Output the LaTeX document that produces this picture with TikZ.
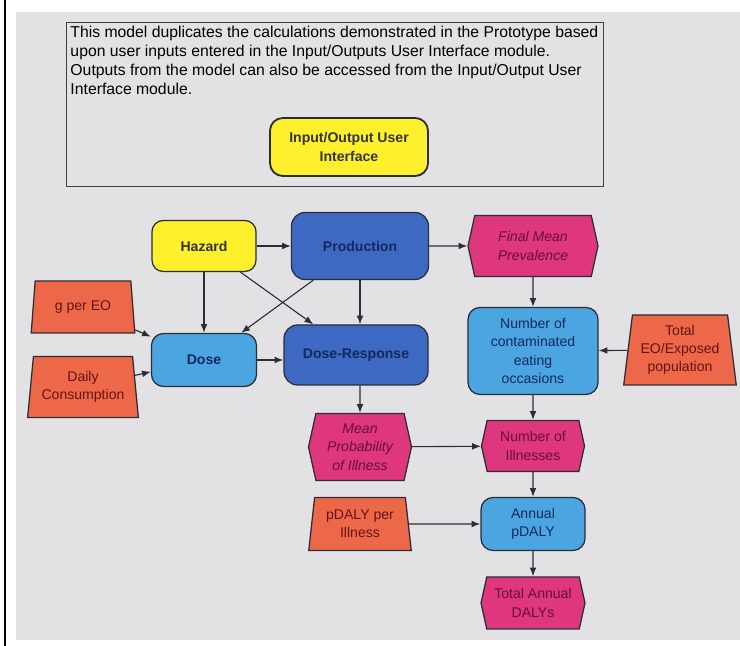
\documentclass[tikz,border=0pt]{standalone}
\usepackage{fontspec}
\setmainfont{Liberation Sans}
\usetikzlibrary{arrows.meta,positioning,shapes.geometric,shapes.symbols}
\definecolor{panelgrey}{RGB}{226,226,229}
\definecolor{hazyellow}{RGB}{255,240,45}
\definecolor{modblue}{RGB}{62,105,195}
\definecolor{calcblue}{RGB}{75,165,225}
\definecolor{outpink}{RGB}{222,55,125}
\definecolor{inorange}{RGB}{236,104,72}
\definecolor{edgegrey}{RGB}{45,45,55}
\definecolor{navytext}{RGB}{20,40,95}
\definecolor{wine}{RGB}{105,15,55}
\definecolor{rusttext}{RGB}{100,20,20}

\begin{document}
\begin{tikzpicture}[
    base/.style={draw=edgegrey,line width=0.9pt,align=center,inner sep=2pt,
      font=\fontsize{10}{13}\selectfont},
    hazbox/.style={base,rounded corners=0.28cm,fill=hazyellow,text=black!80,
      font=\fontsize{10}{13}\selectfont\bfseries},
    modbox/.style={base,rounded corners=0.34cm,fill=modblue,text=navytext,
      font=\fontsize{10}{13}\selectfont\bfseries},
    calcbox/.style={base,rounded corners=0.3cm,fill=calcblue,text=navytext},
    outbox/.style={base,signal,signal to=west and east,signal pointer angle=155,
      fill=outpink,text=wine},
    inbox/.style={base,trapezium,trapezium left angle=82,trapezium right angle=82,
      trapezium stretches=true,fill=inorange,text=rusttext},
    arrow/.style={-{Latex[length=2.2mm,width=1.7mm]},line width=0.8pt,draw=edgegrey}
  ]
    \useasboundingbox (0,0) rectangle (18.5,16.15);
    \fill[panelgrey] (0.4,0.15) rectangle (18.5,15.85);
    \draw[line width=1.5pt] (0.125,0) -- (0.125,16.15);

    % note box with the interface module
    \node[draw=black!75,line width=0.9pt,fill=panelgrey,anchor=north west,
      minimum width=13.425cm,minimum height=4.1cm] (note) at (1.65,15.6) {};
    \node[anchor=north west,align=left,inner sep=3pt,
      font=\fontsize{11.2}{13.5}\selectfont] (notetext) at (note.north west)
      {This model duplicates the calculations demonstrated in the Prototype based\\
       upon user inputs entered in the Input/Outputs User Interface module.\\
       Outputs from the model can also be accessed from the Input/Output User\\
       Interface module.};
    \node[hazbox,line width=1.3pt,rounded corners=0.32cm,minimum width=3.95cm,
      minimum height=1.45cm] (io) at (8.725,12.475) {Input/Output User\\Interface};

    % top row
    \node[hazbox,minimum width=2.6cm,minimum height=1.275cm] (hazard) at (5.1,10.0) {Hazard};
    \node[modbox,minimum width=3.425cm,minimum height=1.675cm] (prod) at (9.0,10.0) {Production};
    \node[outbox,minimum width=3.25cm,minimum height=1.525cm] (fmp) at (13.325,10.0)
      {\itshape Final Mean\\\itshape Prevalence};

    % inputs and dose
    \node[inbox,minimum width=2.6cm,minimum height=1.3cm] (gpereo) at (2.075,8.475) {g per EO};
    \node[inbox,minimum width=2.775cm,minimum height=1.525cm] (daily) at (2.075,6.475) {Daily\\Consumption};
    \node[calcbox,minimum width=2.625cm,minimum height=1.325cm,
      font=\fontsize{10}{13}\selectfont\bfseries] (dose) at (5.1,7.15) {Dose};
    \node[modbox,minimum width=3.6cm,minimum height=1.5cm] (doseresp) at (8.9,7.275) {Dose-Response};
    \node[calcbox,minimum width=3.25cm,minimum height=2.175cm] (nceo) at (13.325,7.375)
      {Number of\\contaminated\\eating\\occasions};
    \node[inbox,minimum width=2.825cm,minimum height=1.75cm] (totaleo) at (17.0,7.4)
      {Total\\EO/Exposed\\population};

    % illness and DALYs
    \node[outbox,minimum width=2.575cm,minimum height=1.675cm] (mpi) at (9.0,4.975)
      {\itshape Mean\\\itshape Probability\\\itshape of Illness};
    \node[outbox,minimum width=2.575cm,minimum height=1.275cm] (nill) at (13.325,5.0)
      {Number of\\Illnesses};
    \node[inbox,minimum width=2.575cm,minimum height=1.325cm] (pdaly) at (9.0,3.05)
      {pDALY per\\Illness};
    \node[calcbox,minimum width=2.6cm,minimum height=1.325cm] (annual) at (13.325,3.05)
      {Annual\\pDALY};
    \node[outbox,minimum width=2.6cm,minimum height=1.3cm] (tad) at (13.325,1.075)
      {Total Annual\\DALYs};

    \draw[arrow] (hazard) -- (prod);
    \draw[arrow] (prod) -- (fmp);
    \draw[arrow] (hazard) -- (dose);
    \draw[arrow] (hazard) -- (doseresp);
    \draw[arrow] (prod) -- (dose);
    \draw[arrow] (prod.south) -- (prod.south |- doseresp.north);
    \draw[arrow] (gpereo) -- (dose);
    \draw[arrow] (daily) -- (dose);
    \draw[arrow] (dose) -- (dose -| doseresp.west);
    \draw[arrow] (mpi |- doseresp.south) -- (mpi);
    \draw[arrow] (fmp) -- (nceo);
    \draw[arrow] (totaleo) -- (nceo);
    \draw[arrow] (nceo) -- (nill);
    \draw[arrow] (mpi) -- (nill);
    \draw[arrow] (nill) -- (annual);
    \draw[arrow] (pdaly) -- (annual);
    \draw[arrow] (annual) -- (tad);
  \end{tikzpicture}
\end{document}
